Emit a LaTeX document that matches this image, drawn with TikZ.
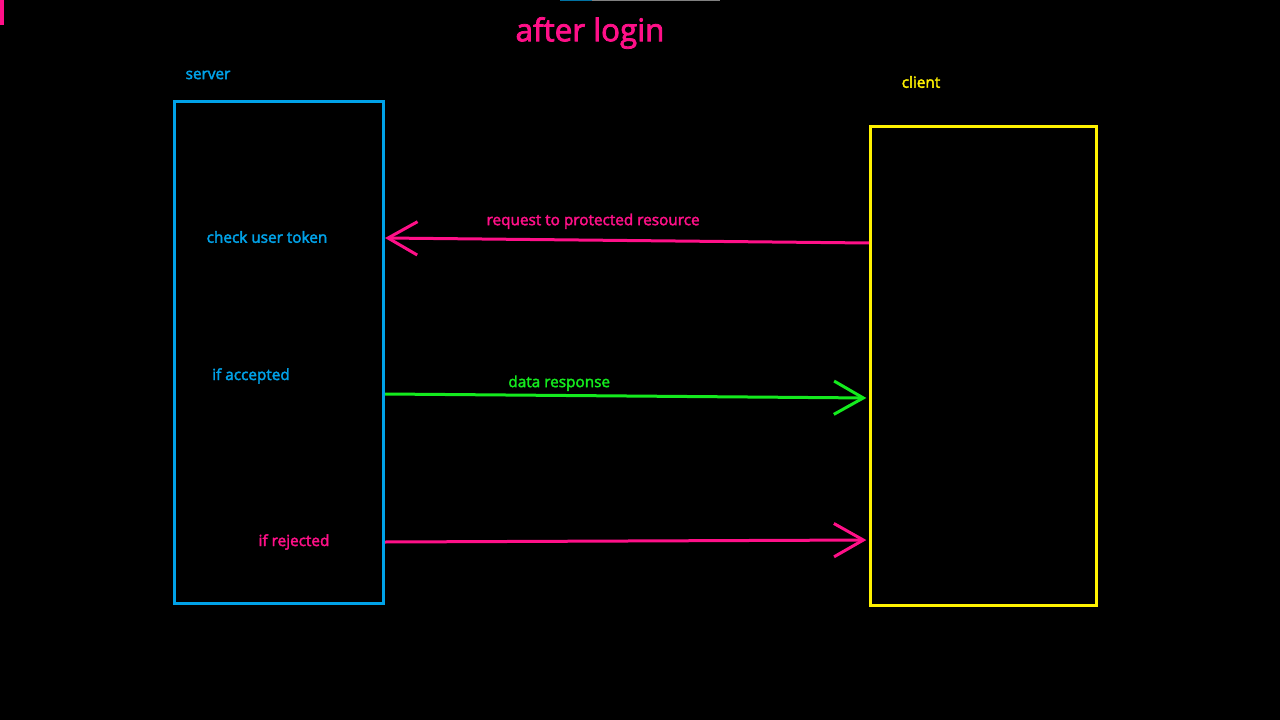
\documentclass[tikz,border=0pt]{standalone}
\usepackage{fontspec}
\setmainfont{Open Sans}
\newfontfamily\semifont{Open Sans}[FakeBold=2.5]
\usetikzlibrary{arrows.meta}
\definecolor{srvblue}{RGB}{0,162,232}
\definecolor{cliyellow}{RGB}{255,242,0}
\definecolor{hotpink}{RGB}{255,16,136}
\definecolor{okgreen}{RGB}{20,235,30}
\tikzset{
  box/.style={draw, line width=2.25pt, inner sep=0pt, anchor=north west},
  msg/.style={line width=2.25pt, -{Straight Barb[length=22pt, width=25pt, line width=2.25pt]}},
  lbl/.style={font=\semifont\fontsize{11.5}{13}\selectfont},
}
\begin{document}
\begin{tikzpicture}[x=0.75pt, y=-0.75pt]
        \fill[black] (0, 0) rectangle (1280, 720);
        \useasboundingbox (0, 0) rectangle (1280, 720);
        \fill[hotpink] (0, 0) rectangle (4, 25);
        \fill[srvblue!70!black] (560, 0) rectangle (592, 1.5);
        \fill[gray] (592, 0) rectangle (720, 1.5);
        \node [text=hotpink, font=\semifont\fontsize{23.5}{27}\selectfont] (title) at (590, 33) {after login};
        \node [box, srvblue, minimum width=156.75pt, minimum height=376.5pt] (server) at (173, 100) {};
        \node [box, cliyellow, minimum width=169.5pt, minimum height=359.25pt] (client) at (869, 125) {};
        \node [lbl, text=srvblue] (srvname) at (208, 75) {server};
        \node [lbl, text=cliyellow] (cliname) at (921, 82) {client};
        \node [lbl, text=srvblue] (check) at (267, 237) {check user token};
        \node [lbl, text=srvblue] (accept) at (251, 376) {if accepted};
        \node [lbl, text=hotpink] (reject) at (294, 542) {if rejected};
        \coordinate (reqA) at (client.west |- 0, 243);
        \coordinate (reqB) at (server.east |- 0, 238);
        \coordinate (okA) at (server.east |- 0, 394);
        \coordinate (okB) at (client.west |- 0, 398);
        \coordinate (noA) at (server.east |- 0, 542);
        \coordinate (noB) at (client.west |- 0, 540);
        \draw [msg, hotpink] (reqA) -- (reqB) node [lbl, pos=0.57, above=4pt] {request to protected resource};
        \draw [msg, okgreen, shorten >=2pt] (okA) -- (okB) node [lbl, pos=0.36, above=-1pt] {data response};
        \draw [msg, hotpink, shorten >=2pt] (noA) -- (noB);
      \end{tikzpicture}
\end{document}
